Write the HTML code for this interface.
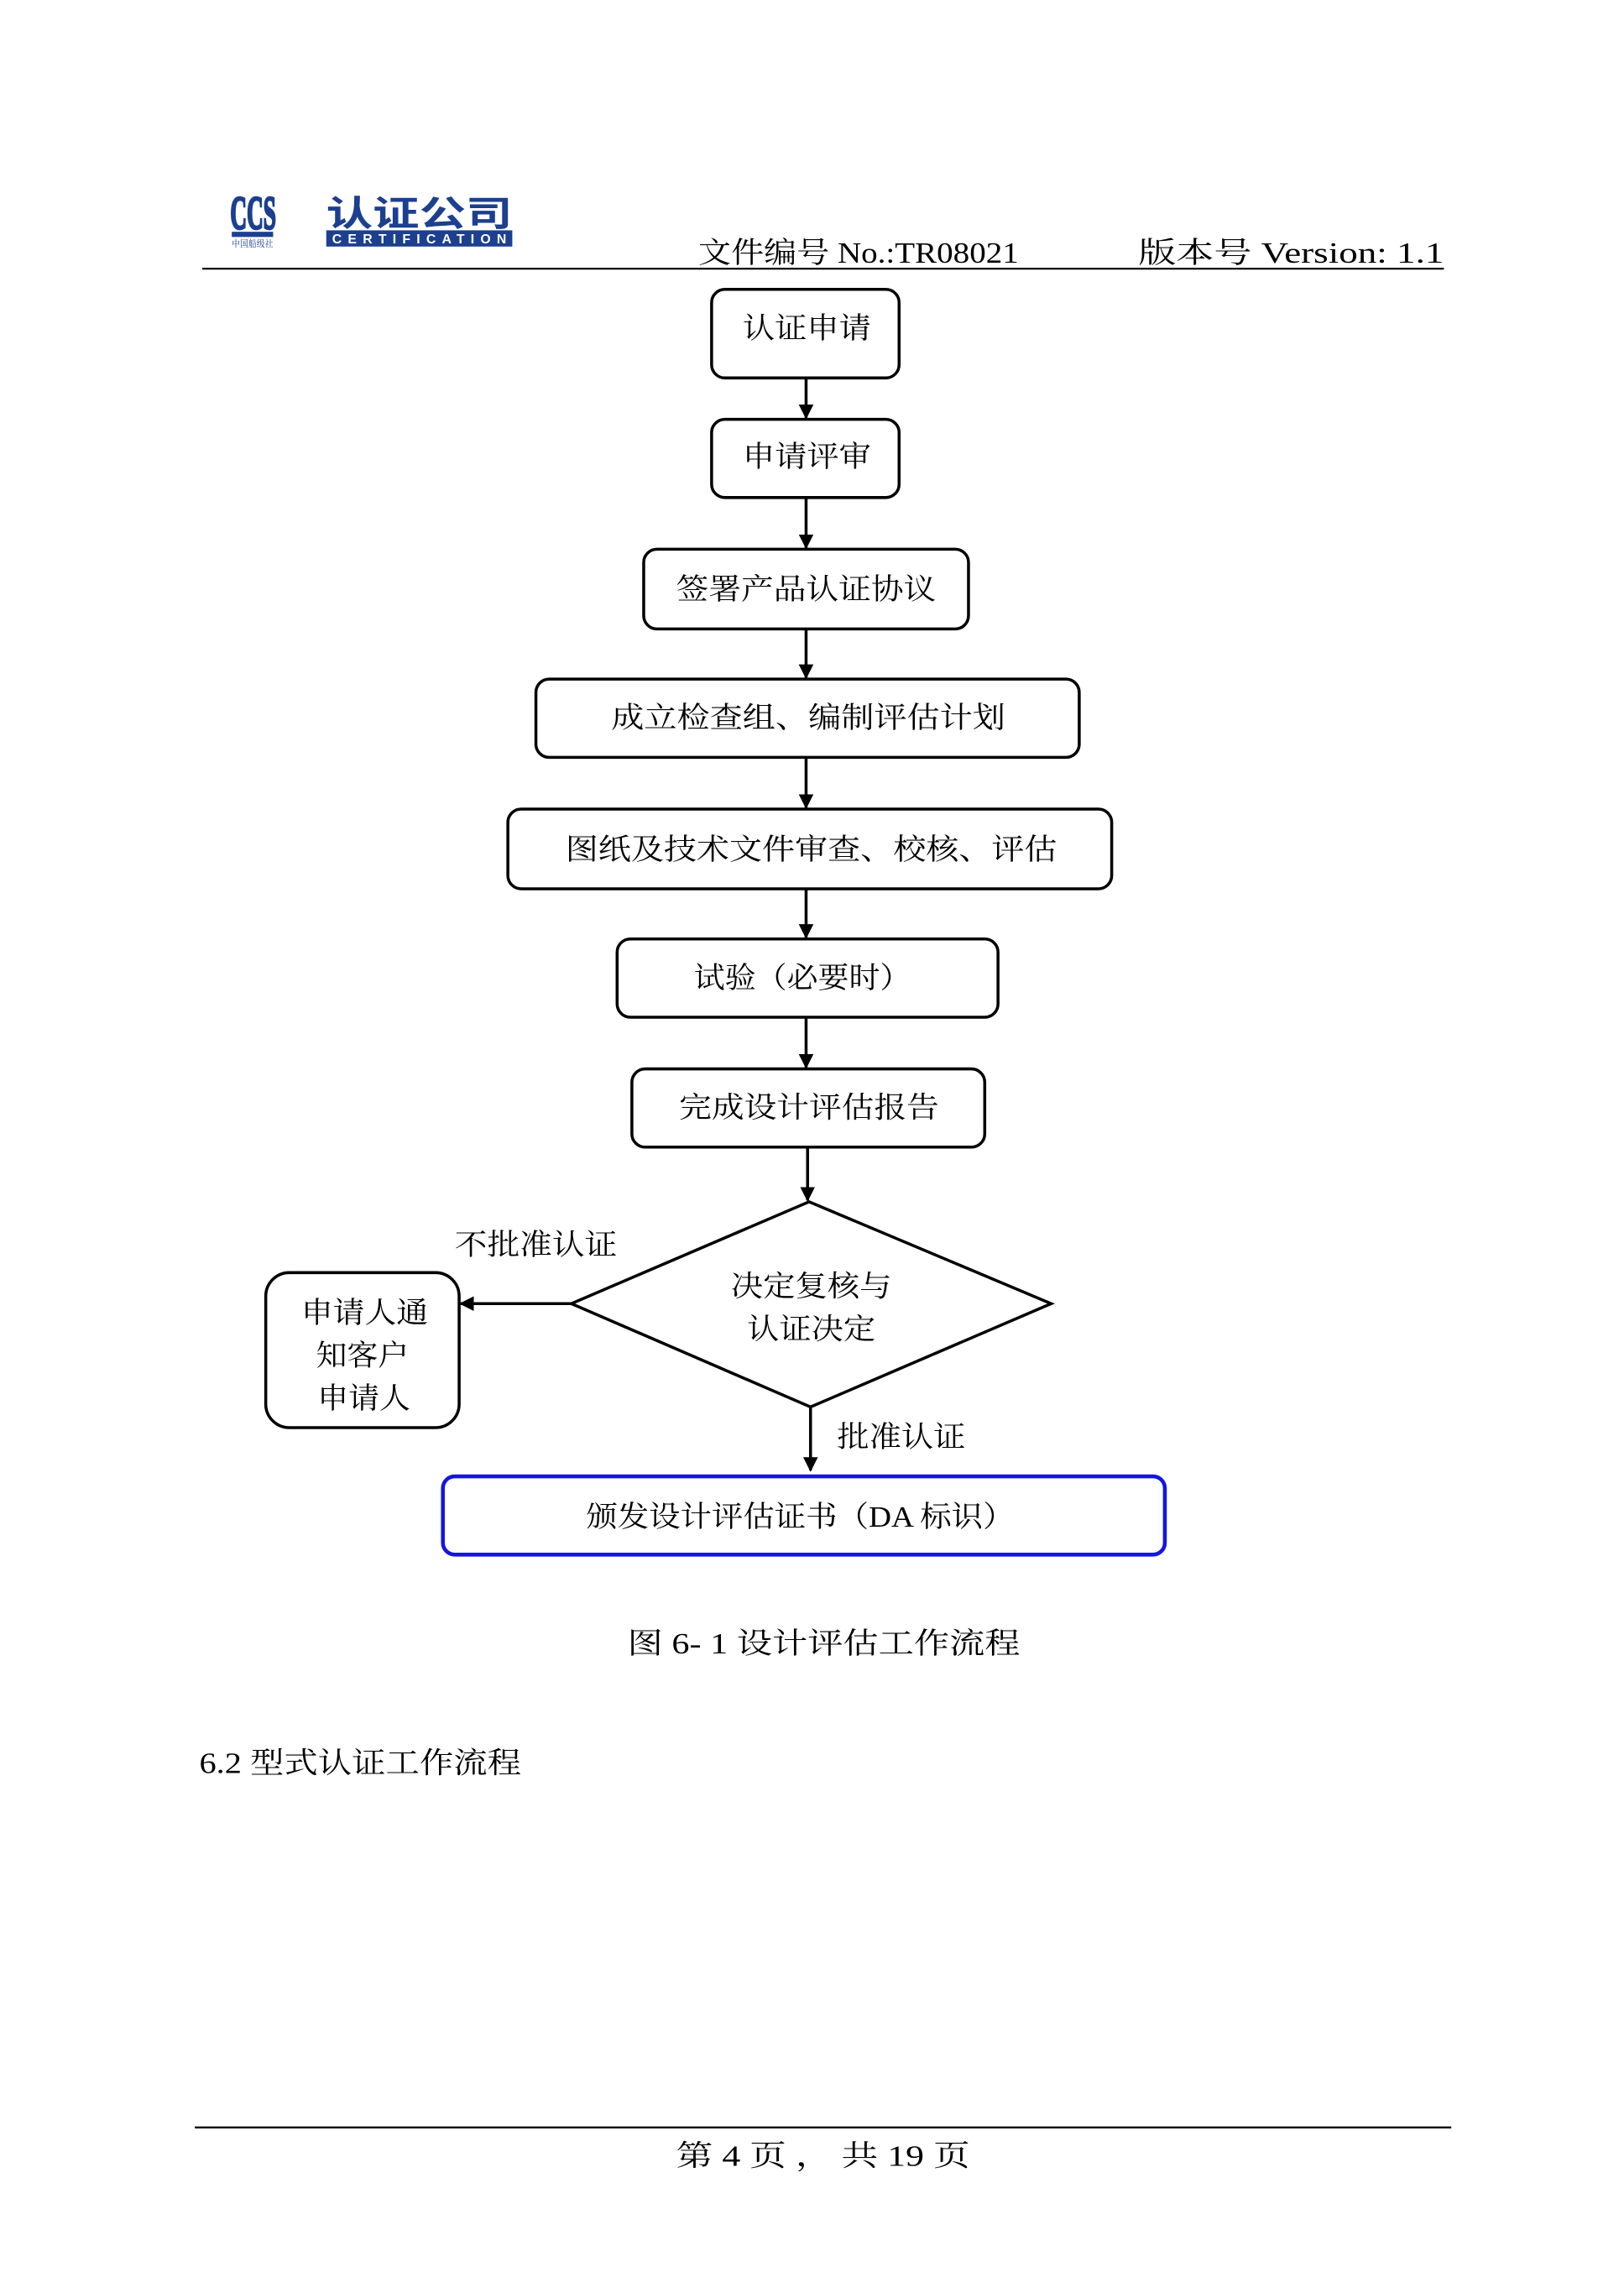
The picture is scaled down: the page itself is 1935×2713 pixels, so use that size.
<!DOCTYPE html>
<html><head><meta charset="utf-8"><style>
html,body{margin:0;padding:0;background:#fff;}
svg{display:block;}
text{font-family:"Liberation Serif","Noto Serif CJK SC","Noto Sans CJK SC",serif;fill:#000;}
</style></head><body>
<svg width="1935" height="2713" viewBox="0 0 1100 1542.3" preserveAspectRatio="none" xmlns="http://www.w3.org/2000/svg">
<defs><marker id="ah" markerWidth="10" markerHeight="10" refX="9" refY="5" orient="auto" markerUnits="userSpaceOnUse"><path d="M0,0 L10,5 L0,10 z" fill="#000"/></marker></defs>
<!-- logo -->
<text x="156" y="155" textLength="31" lengthAdjust="spacingAndGlyphs" stroke="#1d3f8f" stroke-width="1.6" style="fill:#1d3f8f;font-size:32px;font-weight:bold;font-family:'Liberation Serif',serif">CCS</text>
<rect x="157" y="157" width="28" height="3.5" fill="#1d3f8f"/>
<text x="157" y="167" textLength="28" lengthAdjust="spacingAndGlyphs" style="fill:#1d3f8f;font-size:6px">中国船级社</text>
<text x="221" y="153" textLength="126" lengthAdjust="spacingAndGlyphs" style="fill:#1d3f8f;font-size:24px;font-weight:bold;font-family:'Noto Sans CJK SC',sans-serif">认证公司</text>
<rect x="221" y="156" width="126" height="11" fill="#1d3f8f"/>
<text x="225" y="165" textLength="118" lengthAdjust="spacing" style="fill:#fff;font-size:9px;font-weight:bold;font-family:'Liberation Sans',sans-serif">CERTIFICATION</text>
<!-- header -->
<text x="473" y="178" font-size="20" textLength="217" lengthAdjust="spacingAndGlyphs">文件编号 No.:TR08021</text>
<text x="771" y="178" font-size="20" textLength="207" lengthAdjust="spacingAndGlyphs">版本号 Version: 1.1</text>
<line x1="137" y1="182" x2="978" y2="182" stroke="#000" stroke-width="1.3"/>
<g fill="none" stroke="#000" stroke-width="2">
<rect x="482" y="196" width="127" height="60" rx="9"/>
<rect x="482" y="284" width="127" height="53" rx="9"/>
<rect x="436" y="372" width="220" height="54" rx="9"/>
<rect x="363" y="460" width="368" height="53" rx="9"/>
<rect x="344" y="548" width="409" height="54" rx="9"/>
<rect x="418" y="636" width="258" height="53" rx="9"/>
<rect x="428" y="724" width="239" height="53" rx="9"/>
<polygon points="548,814 712,883 549,953 387,883"/>
<rect x="180" y="862" width="131" height="105" rx="16"/>
</g>
<rect x="300" y="1000" width="489" height="53" rx="8" fill="none" stroke="#1515e0" stroke-width="2.6"/>
<g stroke="#000" stroke-width="2" marker-end="url(#ah)">
<line x1="546" y1="256" x2="546" y2="283"/>
<line x1="546" y1="337" x2="546" y2="371"/>
<line x1="546" y1="426" x2="546" y2="459"/>
<line x1="546" y1="513" x2="546" y2="547"/>
<line x1="546" y1="602" x2="546" y2="635"/>
<line x1="546" y1="689" x2="546" y2="723"/>
<line x1="547" y1="777" x2="547" y2="813"/>
<line x1="549" y1="953" x2="549" y2="996"/>
<line x1="387" y1="883" x2="312" y2="883"/>
</g>
<g font-size="20">
<text x="503" y="229" textLength="87" lengthAdjust="spacingAndGlyphs">认证申请</text>
<text x="503" y="316" textLength="87" lengthAdjust="spacingAndGlyphs">申请评审</text>
<text x="458" y="406" textLength="176" lengthAdjust="spacingAndGlyphs">签署产品认证协议</text>
<text x="414" y="493" textLength="267" lengthAdjust="spacingAndGlyphs">成立检查组、编制评估计划</text>
<text x="383" y="582" textLength="333" lengthAdjust="spacingAndGlyphs">图纸及技术文件审查、校核、评估</text>
<text x="470" y="669" textLength="147" lengthAdjust="spacingAndGlyphs">试验（必要时）</text>
<text x="460" y="757" textLength="176" lengthAdjust="spacingAndGlyphs">完成设计评估报告</text>
<text x="495" y="878" textLength="109" lengthAdjust="spacingAndGlyphs">决定复核与</text>
<text x="506" y="907" textLength="87" lengthAdjust="spacingAndGlyphs">认证决定</text>
<text x="204" y="896" textLength="86" lengthAdjust="spacingAndGlyphs">申请人通</text>
<text x="214" y="925" textLength="63" lengthAdjust="spacingAndGlyphs">知客户</text>
<text x="215" y="954" textLength="63" lengthAdjust="spacingAndGlyphs">申请人</text>
<text x="308" y="850" textLength="110" lengthAdjust="spacingAndGlyphs">不批准认证</text>
<text x="567" y="980" textLength="87" lengthAdjust="spacingAndGlyphs">批准认证</text>
<text x="397" y="1034" textLength="290" lengthAdjust="spacingAndGlyphs">颁发设计评估证书（DA 标识）</text>
<text x="425" y="1120" textLength="266" lengthAdjust="spacingAndGlyphs">图 6- 1 设计评估工作流程</text>
<text x="135" y="1201" textLength="218" lengthAdjust="spacingAndGlyphs">6.2 型式认证工作流程</text>
<text x="458" y="1467" textLength="199" lengthAdjust="spacingAndGlyphs">第 4 页 ， 共 19 页</text>
</g>
<line x1="132" y1="1441" x2="983" y2="1441" stroke="#000" stroke-width="1.3"/>
</svg>
</body></html>
